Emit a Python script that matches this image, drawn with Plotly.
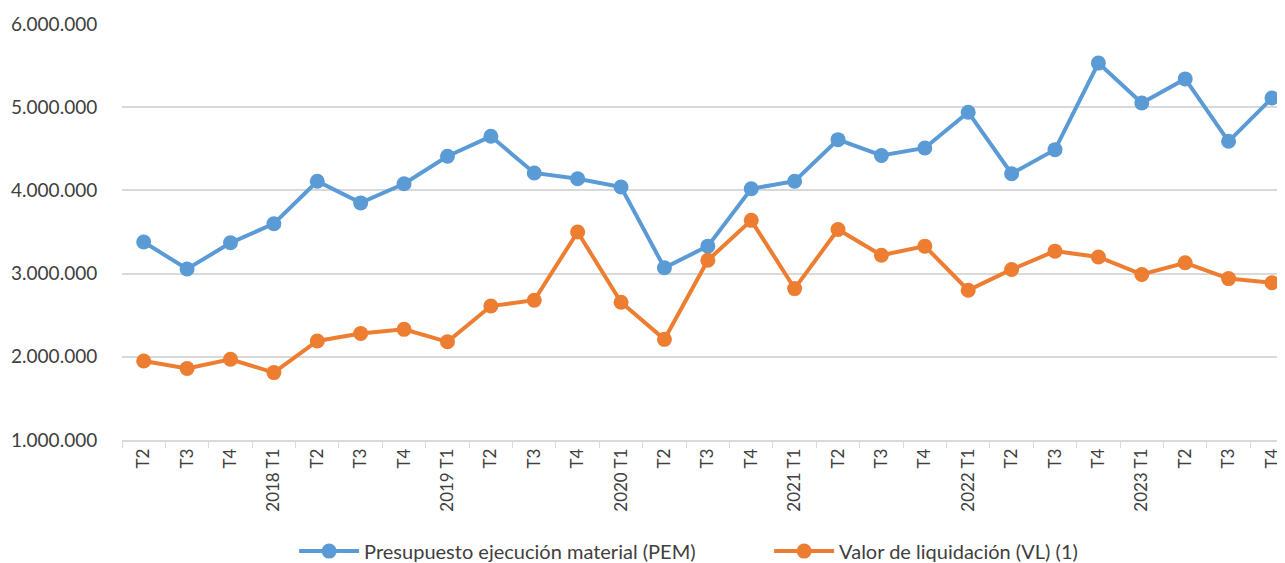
import plotly.graph_objects as go

# periodos trimestrales (id único) y etiqueta mostrada en el eje
periods = [
  "2017 T2", "2017 T3", "2017 T4",
  "2018 T1", "2018 T2", "2018 T3", "2018 T4",
  "2019 T1", "2019 T2", "2019 T3", "2019 T4",
  "2020 T1", "2020 T2", "2020 T3", "2020 T4",
  "2021 T1", "2021 T2", "2021 T3", "2021 T4",
  "2022 T1", "2022 T2", "2022 T3", "2022 T4",
  "2023 T1", "2023 T2", "2023 T3", "2023 T4",
]
tickLabels = [
  "T2", "T3", "T4",
  "2018 T1", "T2", "T3", "T4",
  "2019 T1", "T2", "T3", "T4",
  "2020 T1", "T2", "T3", "T4",
  "2021 T1", "T2", "T3", "T4",
  "2022 T1", "T2", "T3", "T4",
  "2023 T1", "T2", "T3", "T4",
]

pem = [
  3380000, 3055000, 3370000,
  3600000, 4110000, 3850000, 4080000,
  4410000, 4650000, 4210000, 4140000,
  4040000, 3070000, 3330000, 4020000,
  4110000, 4610000, 4420000, 4510000,
  4940000, 4200000, 4490000, 5530000,
  5050000, 5340000, 4590000, 5110000,
]
vl = [
  1950000, 1860000, 1970000,
  1810000, 2190000, 2280000, 2330000,
  2180000, 2610000, 2680000, 3500000,
  2655000, 2210000, 3160000, 3640000,
  2820000, 3530000, 3220000, 3330000,
  2800000, 3050000, 3270000, 3200000,
  2990000, 3130000, 2940000, 2890000,
]

BLUE = "#5B9BD5"
ORANGE = "#ED7D31"
FONT = "Lato"

fig = go.Figure()
fig.add_trace(go.Scatter(
  x=periods, y=pem, name="Presupuesto ejecución material (PEM)",
  mode="lines+markers",
  line=dict(color=BLUE, width=4),
  marker=dict(color=BLUE, size=15),
))
fig.add_trace(go.Scatter(
  x=periods, y=vl, name="Valor de liquidación (VL) (1)",
  mode="lines+markers",
  line=dict(color=ORANGE, width=4),
  marker=dict(color=ORANGE, size=15),
))

# la página añade 8px de margen arriba/izquierda
fig.update_layout(
  width=1277, height=555,
  margin=dict(l=114, r=0, t=16, b=123, autoexpand=False),
  plot_bgcolor="white", paper_bgcolor="white",
  separators=",.",
  font=dict(family=FONT, color="#404040"),
  showlegend=True,
  legend=dict(
    orientation="h", x=0.148, xanchor="left", y=-0.267, yanchor="middle",
    font=dict(family=FONT, size=20, color="#404040"),
    itemwidth=60, entrywidth=400, traceorder="normal",
  ),
)
fig.update_xaxes(
  type="category",
  categoryorder="array", categoryarray=periods,
  tickvals=periods, ticktext=tickLabels,
  tickangle=-90,
  tickfont=dict(family=FONT, size=17, color="#404040"),
  range=[-0.5, 26.3],
  showgrid=False,
  showline=True, linecolor="#D9D9D9", linewidth=1.5,
  ticks="outside", tickson="boundaries", ticklen=6, tickcolor="#D9D9D9",
)
fig.update_yaxes(
  range=[1000000, 6000000],
  tickvals=[1000000, 2000000, 3000000, 4000000, 5000000, 6000000],
  tickformat=",d",
  tickfont=dict(family=FONT, size=19, color="#404040"),
  showgrid=True, gridcolor="#D9D9D9", gridwidth=1.5,
  zeroline=False,
  ticks="outside", ticklen=20, tickcolor="rgba(0,0,0,0)",
)

fig.write_html("out.html")
